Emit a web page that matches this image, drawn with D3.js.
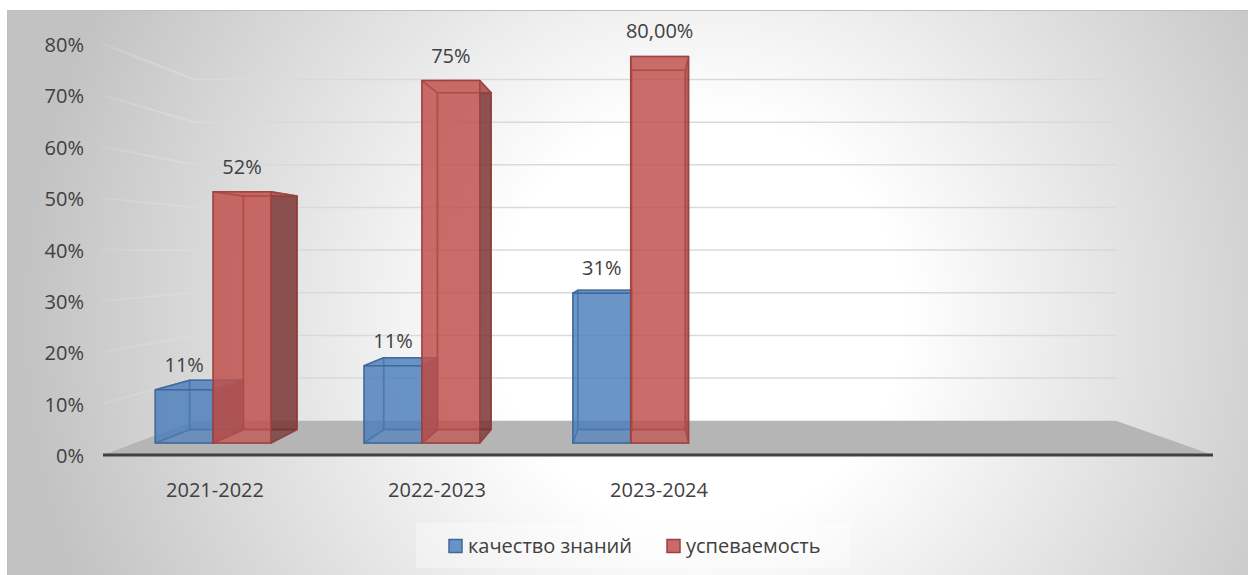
<!DOCTYPE html>
<html lang="ru">
	<head>
		<meta charset="utf-8">
		<script src="https://d3js.org/d3.v7.min.js"></script>
		<style>
			body { margin: 0; background: #ffffff; }
			text { font-family: "Open Sans", sans-serif; fill: #404040; }
		</style>
	</head>
	<body>
		<script type="text/javascript">

			// data
			var categories = ["2021-2022", "2022-2023", "2023-2024", "", ""];
			var seriesNames = ["качество знаний", "успеваемость"];
			var quality = [0.11, 0.16, 0.31];
			var progress = [0.52, 0.75, 0.80];
			var qualityLabels = ["11%", "11%", "31%"];
			var progressLabels = ["52%", "75%", "80,00%"];
			var yTicks = [0, 0.1, 0.2, 0.3, 0.4, 0.5, 0.6, 0.7, 0.8];
			var colors = ["#4F81BD", "#C0504D"];

			var w = 1248;
			var h = 575;

			// perspective: vanishing point and depth scale
			var vp = [642, 253];
			var depth = d3.scaleLinear().domain([0, 1]).range([1, 0.83]);
			var barFront = 0.35, barBack = 0.74;

			// front plane scales
			var x = d3.scaleBand().domain(categories.map(function(d, i) { return i; })).range([103, 1213]);
			var y = d3.scaleLinear().domain([0, 0.8]).range([455, 44]);

			function P(xf, yf, d) {
				var s = depth(d);
				return [vp[0] + s * (xf - vp[0]), vp[1] + s * (yf - vp[1])];
			}
			function poly(pts) {
				return pts.map(function(p) { return p.join(","); }).join(" ");
			}

			var svg = d3.select("body")
						.append("svg")
						.attr("width", w)
						.attr("height", h);

			var defs = svg.append("defs");
			var grad = defs.append("radialGradient")
				.attr("id", "bg")
				.attr("gradientUnits", "userSpaceOnUse")
				.attr("cx", 700).attr("cy", 320).attr("r", 680);
			grad.append("stop").attr("offset", 0).attr("stop-color", "#ffffff");
			grad.append("stop").attr("offset", 0.3).attr("stop-color", "#ffffff");
			grad.append("stop").attr("offset", 1).attr("stop-color", "#c2c2c2");

			// side wall lines fade out towards the front
			var sideGrad = defs.append("linearGradient")
				.attr("id", "side")
				.attr("gradientUnits", "userSpaceOnUse")
				.attr("x1", 103).attr("x2", 200).attr("y1", 0).attr("y2", 0);
			sideGrad.append("stop").attr("offset", 0).attr("stop-color", "#e0e0e0").attr("stop-opacity", 0.2);
			sideGrad.append("stop").attr("offset", 1).attr("stop-color", "#dadada").attr("stop-opacity", 0.9);

			// chart area
			svg.append("rect")
				.attr("x", 7.5).attr("y", 10.5)
				.attr("width", w).attr("height", h)
				.style("fill", "url(#bg)")
				.style("stroke", "#bfbfbf");

			// gridlines: side wall + back wall
			var x0 = x.range()[0], x1 = x.range()[1];
			yTicks.slice(1).forEach(function(t) {
				var a = P(x0, y(t), 0), b = P(x0, y(t), 1), c = P(x1, y(t), 1);
				svg.append("path")
					.attr("d", "M" + a[0] + "," + a[1] + "L" + b[0] + "," + b[1])
					.style("fill", "none")
					.style("stroke", "url(#side)").style("stroke-width", 2);
				svg.append("line")
					.attr("x1", b[0]).attr("y1", b[1]).attr("x2", c[0]).attr("y2", c[1])
					.style("stroke", "#d9d9d9").style("stroke-width", 1.5);
			});

			// floor
			svg.append("polygon")
				.attr("points", poly([P(x0, y(0), 0), P(x1, y(0), 0), P(x1, y(0), 1), P(x0, y(0), 1)]))
				.style("fill", "#b5b5b5");

			svg.append("line")
				.attr("x1", x0).attr("y1", y(0)).attr("x2", x1).attr("y2", y(0))
				.style("stroke", "#404040").style("stroke-width", 3);

			// y axis labels
			svg.selectAll(".ytick")
				.data(yTicks)
				.enter()
				.append("text")
				.attr("x", 84)
				.attr("y", function(d) { return y(d) + 8; })
				.attr("text-anchor", "end")
				.style("font-size", "20px")
				.text(function(d) { return Math.round(d * 100) + "%"; });

			// category labels
			svg.selectAll(".xtick")
				.data(categories)
				.enter()
				.append("text")
				.attr("x", function(d, i) { return x(i) + x.bandwidth() / 2 + 1; })
				.attr("y", 497)
				.attr("text-anchor", "middle")
				.style("font-size", "20px")
				.text(function(d) { return d; });

			// bars as transparent 3d boxes
			var barW = 61.5, barOff = 21.5;
			var series = [
				{ values: quality, labels: qualityLabels, color: colors[0] },
				{ values: progress, labels: progressLabels, color: colors[1] }
			];

			function drawBox(g, xa, xb, v, color) {
				var yb = y(0), yt = y(v);
				var c = d3.color(color);
				var dark = c.darker(2).formatHex();
				var edge = c.darker(0.6).formatHex();
				var faces = [
					{ pts: [[xa, yb, barBack], [xb, yb, barBack], [xb, yt, barBack], [xa, yt, barBack]], fill: color, op: 0.6 },
					{ pts: [[xa, yb, barFront], [xb, yb, barFront], [xb, yb, barBack], [xa, yb, barBack]], fill: color, op: 0.3 },
					{ pts: [[xa, yb, barFront], [xa, yt, barFront], [xa, yt, barBack], [xa, yb, barBack]], fill: color, op: 0.6 },
					{ pts: [[xb, yb, barFront], [xb, yt, barFront], [xb, yt, barBack], [xb, yb, barBack]], fill: dark, op: 0.6 },
					{ pts: [[xa, yt, barFront], [xb, yt, barFront], [xb, yt, barBack], [xa, yt, barBack]], fill: color, op: 0.6 },
					{ pts: [[xa, yb, barFront], [xb, yb, barFront], [xb, yt, barFront], [xa, yt, barFront]], fill: color, op: 0.6 }
				];
				g.selectAll(null)
					.data(faces)
					.enter()
					.append("polygon")
					.attr("points", function(f) { return poly(f.pts.map(function(p) { return P(p[0], p[1], p[2]); })); })
					.style("fill", function(f) { return f.fill; })
					.style("fill-opacity", function(f) { return f.op; })
					.style("stroke", edge)
					.style("stroke-opacity", 0.8)
					.style("stroke-width", 1.5)
					.style("stroke-linejoin", "round");
			}

			var bars = svg.append("g");
			var labels = [];
			quality.forEach(function(v, i) {
				series.forEach(function(s, k) {
					var xa = x(i) + barOff + k * barW;
					var xb = xa + barW;
					drawBox(bars.append("g"), xa, xb, s.values[i], s.color);
					var top = P((xa + xb) / 2, y(s.values[i]), barFront);
					labels.push({ x: top[0], y: top[1] - 18, text: s.labels[i] });
				});
			});

			svg.selectAll(".vlabel")
				.data(labels)
				.enter()
				.append("text")
				.attr("x", function(d) { return d.x; })
				.attr("y", function(d) { return d.y; })
				.attr("text-anchor", "middle")
				.style("font-size", "20px")
				.text(function(d) { return d.text; });

			// legend
			var legend = svg.append("g");
			legend.append("rect")
				.attr("x", 416).attr("y", 523).attr("width", 434).attr("height", 45)
				.style("fill", "#ffffff").style("fill-opacity", 0.35);
			var legX = [449, 667];
			seriesNames.forEach(function(name, k) {
				legend.append("rect")
					.attr("x", legX[k]).attr("y", 539.5)
					.attr("width", 13).attr("height", 13)
					.style("fill", colors[k]).style("fill-opacity", 0.85)
					.style("stroke", d3.color(colors[k]).darker(0.6).formatHex())
					.style("stroke-width", 1.5);
				legend.append("text")
					.attr("x", legX[k] + 19).attr("y", 553)
					.style("font-size", "20px")
					.text(name);
			});

		</script>
	</body>
</html>
